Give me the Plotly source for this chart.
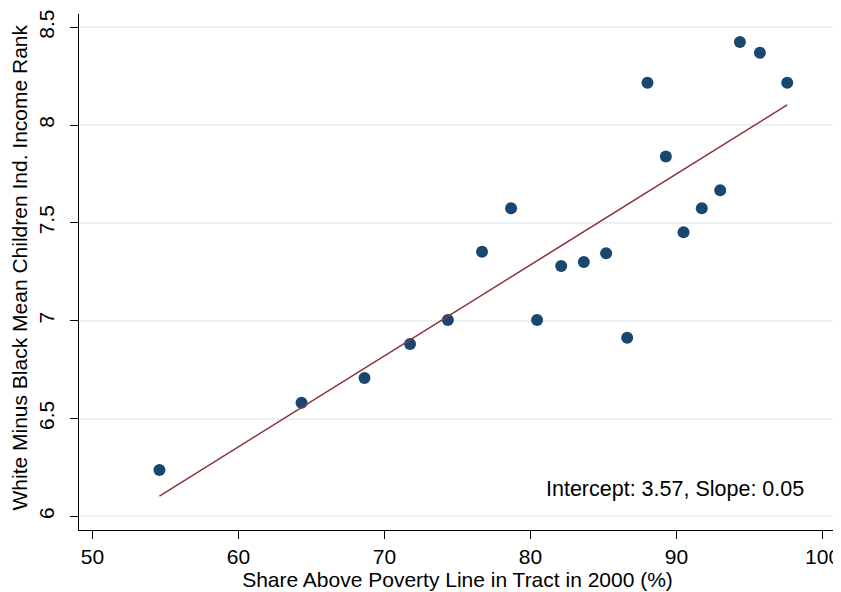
import numpy as np
import plotly.graph_objects as go

share_above_poverty = [54.59, 64.32, 68.63, 71.75, 74.34, 76.68, 78.67, 80.45, 82.10, 83.65,
                       85.18, 86.62, 88.01, 89.27, 90.48, 91.73, 92.99, 94.34, 95.71, 97.58]
rank_gap = [6.237, 6.581, 6.707, 6.881, 7.004, 7.353, 7.575, 7.004, 7.280, 7.300,
            7.345, 6.913, 8.217, 7.840, 7.452, 7.575, 7.667, 8.425, 8.370, 8.217]

fit_intercept = 3.564
fit_slope = 0.04652
annotation_text = "Intercept: 3.57, Slope: 0.05"
x_title = "Share Above Poverty Line in Tract in 2000 (%)"
y_title = "White Minus Black Mean Children Ind. Income Rank"

x_ticks = [50, 60, 70, 80, 90, 100]
y_ticks = [6, 6.5, 7, 7.5, 8, 8.5]
y_tick_labels = ["6", "6.5", "7", "7.5", "8", "8.5"]

x_fit = [min(share_above_poverty), max(share_above_poverty)]
y_fit = [fit_intercept + fit_slope * v for v in x_fit]

FONT = "Liberation Sans, Arial, sans-serif"
FS = 21

fig = go.Figure()
fig.add_trace(go.Scatter(
    x=share_above_poverty, y=rank_gap, mode="markers",
    marker=dict(color="#1a476f", size=12, line=dict(width=0)),
    showlegend=False, hoverinfo="x+y"))
fig.add_trace(go.Scatter(
    x=x_fit, y=y_fit, mode="lines",
    line=dict(color="#90353b", width=1.6),
    showlegend=False))

fig.add_annotation(x=80.9, y=6.14, xref="x", yref="y", text=annotation_text,
                   showarrow=False, xanchor="left", yanchor="middle",
                   font=dict(family=FONT, size=21.5, color="#000000"))

# y-axis title placed as a rotated annotation for exact positioning
fig.add_annotation(x=0, y=0.5087, xref="paper", yref="paper", text=y_title,
                   showarrow=False, xanchor="center", yanchor="middle", textangle=-90,
                   xshift=-59, font=dict(family=FONT, size=FS, color="#000000"))

# the page body has an 8px default margin, so the figure is offset by 8px
fig.update_layout(
    width=833, height=584,
    margin=dict(l=71, r=5, t=6, b=62, autoexpand=False),
    paper_bgcolor="white", plot_bgcolor="white",
    font=dict(family=FONT, size=FS, color="#000000"),
    xaxis=dict(range=[49.08, 100.92], tickvals=x_ticks, ticks="outside", ticklen=8,
               tickwidth=1, tickcolor="black", showline=True, linecolor="black", linewidth=1,
               showgrid=False, zeroline=False, automargin=False,
               title=dict(text=x_title, standoff=5, font=dict(size=FS)),
               tickfont=dict(size=FS)),
    yaxis=dict(range=[5.93, 8.568], tickvals=y_ticks, ticktext=y_tick_labels, ticks="outside",
               ticklen=8, tickwidth=1, tickcolor="black", tickangle=-90, ticklabelstandoff=8,
               showline=True, linecolor="black", linewidth=1, automargin=False,
               showgrid=True, gridcolor="#eaf2f3", gridwidth=1.5, zeroline=False,
               tickfont=dict(size=FS)),
)

fig.write_html("out.html")
